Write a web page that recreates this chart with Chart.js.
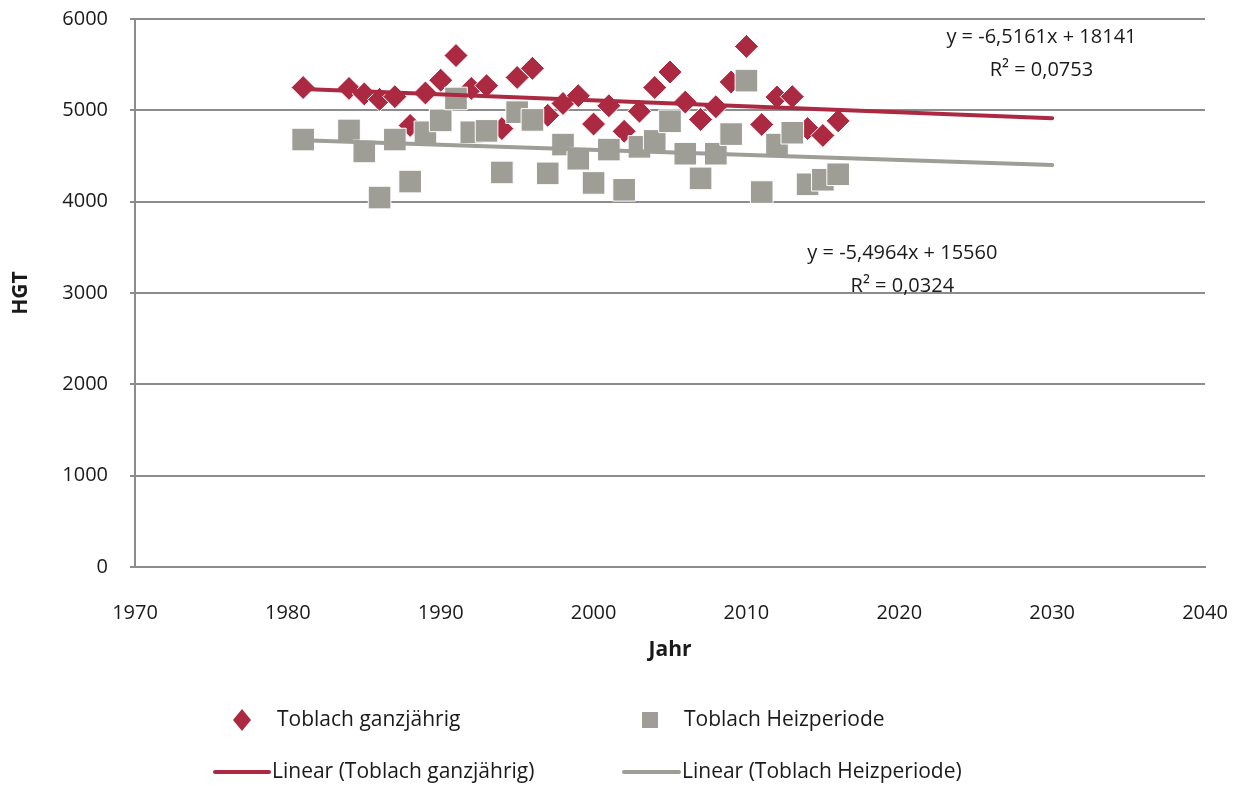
<!DOCTYPE html>
<html>
<head>
<meta charset="utf-8">
<title>Toblach HGT</title>
<script src="https://cdn.jsdelivr.net/npm/chart.js@4.4.1/dist/chart.umd.min.js"></script>
<style>
    html, body { margin: 0; padding: 0; background: #ffffff; }
    #wrap { position: relative; width: 1235px; height: 786px; }
</style>
</head>
<body>
<div id="wrap"><canvas id="hgtChart" width="1235" height="786"></canvas></div>
<script>
// Jahre mit Messwerten (1982 und 1983 fehlen)
var years = [1981, 1984, 1985, 1986, 1987, 1988, 1989, 1990, 1991, 1992, 1993, 1994,
    1995, 1996, 1997, 1998, 1999, 2000, 2001, 2002, 2003, 2004, 2005, 2006, 2007,
    2008, 2009, 2010, 2011, 2012, 2013, 2014, 2015, 2016];
// Heizgradtage ganzjährig
var hgtGanzjahr = [5250, 5240, 5180, 5120, 5150, 4835, 5190, 5330, 5600, 5240, 5270, 4800,
    5360, 5460, 4945, 5075, 5160, 4850, 5050, 4770, 4990, 5250, 5420, 5090, 4900,
    5040, 5310, 5700, 4845, 5145, 5150, 4800, 4725, 4885];
// Heizgradtage Heizperiode
var hgtHeizperiode = [4680, 4780, 4550, 4045, 4680, 4220, 4760, 4890, 5130, 4760, 4775, 4320,
    4980, 4895, 4310, 4625, 4470, 4205, 4570, 4130, 4600, 4665, 4880, 4525, 4255,
    4525, 4740, 5325, 4105, 4625, 4755, 4190, 4240, 4300];
// Trendlinien (aus den Gleichungen im Diagramm)
var trendYears = [1981, 2030];
var trendGanzjahr = { slope: -6.5161, intercept: 18141, r2: '0,0753', eq: 'y = -6,5161x + 18141' };
var trendHeiz = { slope: -5.4964, intercept: 15560, r2: '0,0324', eq: 'y = -5,4964x + 15560' };
var xTicks = [1970, 1980, 1990, 2000, 2010, 2020, 2030, 2040];
var yTicks = [0, 1000, 2000, 3000, 4000, 5000, 6000];

var red = '#AC2A41';
var gray = '#9E9D96';
var gridGray = '#8C8C8C';
var fontFamily = '"Open Sans", "DejaVu Sans", sans-serif';

function toPoints(xs, ys) {
    var pts = [];
    for (var i = 0; i < xs.length; i++) {
        pts.push({ x: xs[i], y: ys[i] });
    }
    return pts;
}

function trendPoints(t) {
    return trendYears.map(function (yr) {
        return { x: yr, y: t.slope * yr + t.intercept };
    });
}

// Gleichungen + Legende direkt auf das Canvas zeichnen
var annotationPlugin = {
    id: 'annotations',
    afterDraw: function (chart) {
        var ctx = chart.ctx;
        var xs = chart.scales.x, ys = chart.scales.y;
        ctx.save();
        ctx.fillStyle = '#1a1a1a';
        ctx.font = '20px ' + fontFamily;
        ctx.textAlign = 'center';
        ctx.textBaseline = 'middle';
        var x1 = xs.getPixelForValue(2029.3), y1 = ys.getPixelForValue(5800);
        ctx.fillText(trendGanzjahr.eq, x1, y1);
        ctx.fillText('R\u00B2 = ' + trendGanzjahr.r2, x1, y1 + 33);
        var x2 = xs.getPixelForValue(2020.2), y2 = ys.getPixelForValue(3440);
        ctx.fillText(trendHeiz.eq, x2, y2);
        ctx.fillText('R\u00B2 = ' + trendHeiz.r2, x2, y2 + 33);

        // Legende
        ctx.textAlign = 'left';
        ctx.font = '21px ' + fontFamily;
        ctx.fillStyle = red;
        ctx.beginPath();
        ctx.moveTo(242, 709); ctx.lineTo(251, 720); ctx.lineTo(242, 731); ctx.lineTo(233, 720);
        ctx.closePath();
        ctx.fill();
        ctx.fillStyle = gray;
        ctx.fillRect(642, 712, 16, 16);
        ctx.lineWidth = 4;
        ctx.lineCap = 'round';
        ctx.strokeStyle = red;
        ctx.beginPath(); ctx.moveTo(215, 772); ctx.lineTo(269, 772); ctx.stroke();
        ctx.strokeStyle = gray;
        ctx.beginPath(); ctx.moveTo(624, 772); ctx.lineTo(679, 772); ctx.stroke();
        ctx.fillStyle = '#1a1a1a';
        var ds = chart.data.datasets;
        ctx.fillText(ds[0].label, 277, 720);
        ctx.fillText(ds[1].label, 684, 720);
        ctx.fillText(ds[2].label, 272, 772);
        ctx.fillText(ds[3].label, 682, 772);
        ctx.restore();
    }
};

var hgtChart = new Chart(document.getElementById('hgtChart').getContext('2d'), {
    type: 'scatter',
    data: {
        datasets: [
            {
                label: 'Toblach ganzjährig',
                data: toPoints(years, hgtGanzjahr),
                pointStyle: 'rectRot',
                pointRadius: 12,
                pointHoverRadius: 12,
                backgroundColor: red,
                borderColor: '#ffffff',
                borderWidth: 1,
                order: 4
            },
            {
                label: 'Toblach Heizperiode',
                data: toPoints(years, hgtHeizperiode),
                pointStyle: 'rect',
                pointRadius: 16,
                pointHoverRadius: 16,
                backgroundColor: gray,
                borderColor: '#ffffff',
                borderWidth: 1,
                order: 3
            },
            {
                label: 'Linear (Toblach ganzjährig)',
                data: trendPoints(trendGanzjahr),
                showLine: true,
                pointRadius: 0,
                borderColor: red,
                borderWidth: 4,
                borderCapStyle: 'round',
                order: 1
            },
            {
                label: 'Linear (Toblach Heizperiode)',
                data: trendPoints(trendHeiz),
                showLine: true,
                pointRadius: 0,
                borderColor: gray,
                borderWidth: 4,
                borderCapStyle: 'round',
                order: 2
            }
        ]
    },
    options: {
        responsive: false,
        animation: false,
        layout: { padding: { left: 0, right: 30, top: 19, bottom: 121 } },
        plugins: {
            legend: { display: false },
            tooltip: { enabled: false }
        },
        scales: {
            x: {
                type: 'linear',
                min: 1970,
                max: 2040,
                afterBuildTicks: function (scale) {
                    scale.ticks = xTicks.map(function (v) { return { value: v }; });
                },
                afterFit: function (scale) {
                    scale.height = 98;
                    scale.paddingLeft = 0;
                    scale.paddingRight = 0;
                },
                grid: { display: false },
                border: { display: true, color: gridGray, width: 2 },
                ticks: {
                    padding: 26,
                    color: '#1a1a1a',
                    font: { family: fontFamily, size: 20 },
                    callback: function (v) { return String(v); }
                },
                title: {
                    display: true,
                    text: 'Jahr',
                    color: '#1a1a1a',
                    font: { family: fontFamily, size: 21, weight: 'bold' },
                    padding: { top: 0, bottom: 2 }
                }
            },
            y: {
                min: 0,
                max: 6000,
                afterBuildTicks: function (scale) {
                    scale.ticks = yTicks.map(function (v) { return { value: v }; });
                },
                afterFit: function (scale) {
                    scale.width = 135;
                    scale.paddingTop = 0;
                    scale.paddingBottom = 0;
                },
                grid: { color: gridGray, lineWidth: 2, tickLength: 5 },
                border: { display: true, color: gridGray, width: 2 },
                ticks: {
                    padding: 22,
                    color: '#1a1a1a',
                    font: { family: fontFamily, size: 20 },
                    callback: function (v) { return String(v); }
                },
                title: {
                    display: true,
                    text: 'HGT',
                    color: '#1a1a1a',
                    font: { family: fontFamily, size: 21, weight: 'bold' },
                    padding: { top: 8, bottom: 0 }
                }
            }
        }
    },
    plugins: [annotationPlugin]
});
</script>
</body>
</html>
